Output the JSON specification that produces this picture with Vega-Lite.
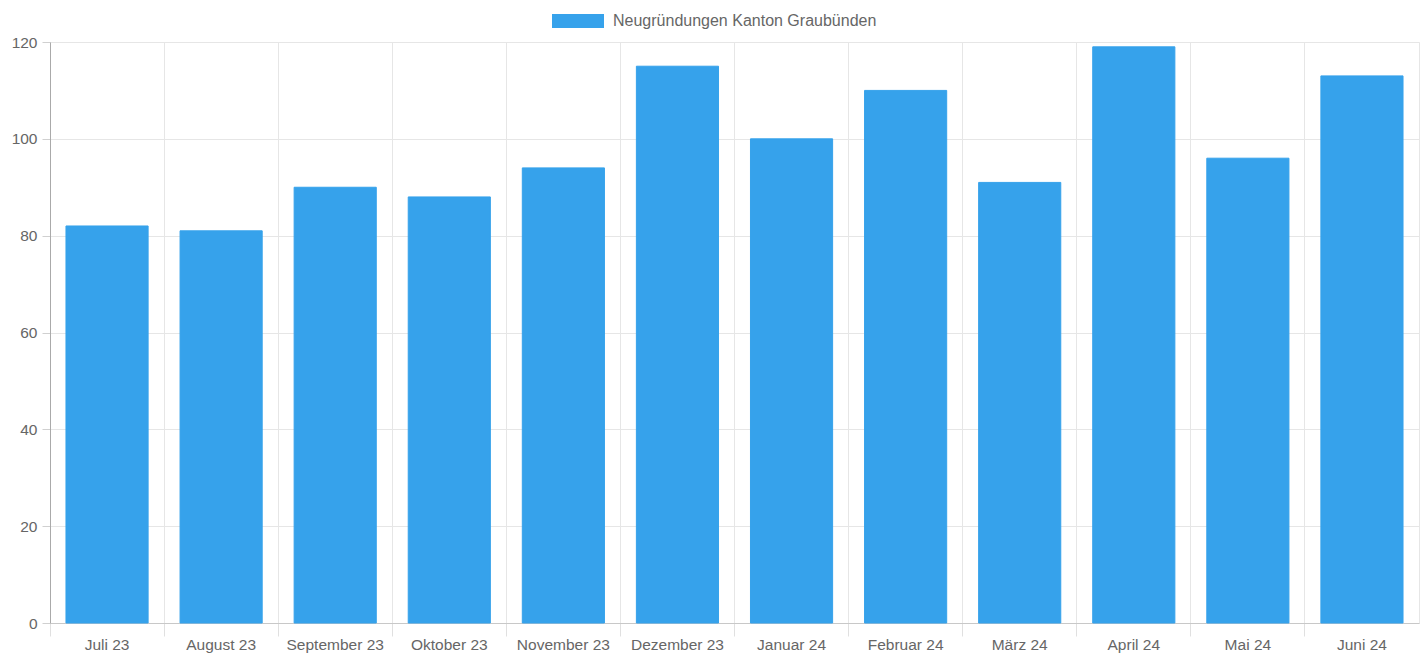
{
  "$schema": "https://vega.github.io/schema/vega-lite/v6.json",
  "autosize": {"type": "none"},
  "width": 1369,
  "height": 581,
  "padding": {"left": 50, "top": 42, "right": 6, "bottom": 32},
  "background": "white",
  "config": {
    "font": "Liberation Sans",
    "view": {"stroke": "#e6e6e6", "strokeWidth": 1}
  },
  "data": {
    "values": [
      {"monat": "Juli 23", "anzahl": 82, "serie": "Neugründungen Kanton Graubünden"},
      {"monat": "August 23", "anzahl": 81, "serie": "Neugründungen Kanton Graubünden"},
      {"monat": "September 23", "anzahl": 90, "serie": "Neugründungen Kanton Graubünden"},
      {"monat": "Oktober 23", "anzahl": 88, "serie": "Neugründungen Kanton Graubünden"},
      {"monat": "November 23", "anzahl": 94, "serie": "Neugründungen Kanton Graubünden"},
      {"monat": "Dezember 23", "anzahl": 115, "serie": "Neugründungen Kanton Graubünden"},
      {"monat": "Januar 24", "anzahl": 100, "serie": "Neugründungen Kanton Graubünden"},
      {"monat": "Februar 24", "anzahl": 110, "serie": "Neugründungen Kanton Graubünden"},
      {"monat": "März 24", "anzahl": 91, "serie": "Neugründungen Kanton Graubünden"},
      {"monat": "April 24", "anzahl": 119, "serie": "Neugründungen Kanton Graubünden"},
      {"monat": "Mai 24", "anzahl": 96, "serie": "Neugründungen Kanton Graubünden"},
      {"monat": "Juni 24", "anzahl": 113, "serie": "Neugründungen Kanton Graubünden"}
    ]
  },
  "resolve": {"axis": {"x": "independent"}},
  "layer": [
    {
      "mark": {"type": "bar", "opacity": 0, "width": {"band": 0.72}},
      "encoding": {
        "x": {
          "field": "monat",
          "type": "nominal",
          "sort": null,
          "scale": {"paddingInner": 0, "paddingOuter": 0},
          "axis": {
            "title": null,
            "orient": "bottom",
            "labels": false,
            "bandPosition": 0,
            "tickSize": 13,
            "tickColor": "#e0e0e0",
            "grid": true,
            "gridColor": "#e6e6e6",
            "domainColor": "#c8c8c8"
          }
        },
        "y": {
          "field": "anzahl",
          "type": "quantitative",
          "scale": {"domain": [0, 120], "nice": false},
          "axis": {
            "title": null,
            "values": [0, 20, 40, 60, 80, 100, 120],
            "labelFontSize": 15.5,
            "labelColor": "#666666",
            "labelPadding": 5,
            "tickSize": 8,
            "tickColor": "#d0d0d0",
            "grid": true,
            "gridColor": "#e6e6e6",
            "domainColor": "#aaaaaa"
          }
        }
      }
    },
    {
      "mark": {"type": "bar", "stroke": "#36A2EB", "strokeWidth": 1, "width": {"band": 0.72}},
      "encoding": {
        "x": {
          "field": "monat",
          "type": "nominal",
          "sort": null,
          "axis": {
            "title": null,
            "orient": "bottom",
            "labelAngle": 0,
            "labelFontSize": 15.5,
            "labelColor": "#666666",
            "labelPadding": 14,
            "ticks": false,
            "tickSize": 0,
            "grid": false,
            "domain": false
          }
        },
        "y": {"field": "anzahl", "type": "quantitative"},
        "color": {
          "field": "serie",
          "type": "nominal",
          "scale": {"range": ["#36A2EB"]},
          "legend": {
            "title": null,
            "orient": "none",
            "legendX": 502,
            "legendY": -47,
            "symbolType": "M-1,-0.27L1,-0.27L1,0.27L-1,0.27Z",
            "symbolSize": 2704,
            "symbolStrokeWidth": 0,
            "symbolOpacity": 1,
            "labelFontSize": 16,
            "labelLimit": 500,
            "labelColor": "#666666",
            "labelOffset": 9,
            "padding": 0
          }
        }
      }
    }
  ]
}
